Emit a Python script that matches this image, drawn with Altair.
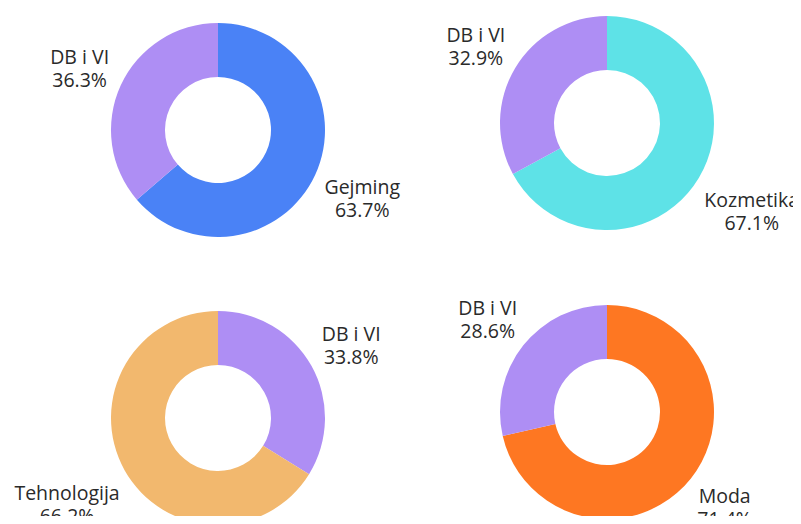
import altair as alt
import pandas as pd

# ---- data ----
panels = ["Gejming", "Kozmetika", "Tehnologija", "Moda"]
panel_of = ["Gejming", "Gejming", "Kozmetika", "Kozmetika",
            "Tehnologija", "Tehnologija", "Moda", "Moda"]
categories = ["Gejming", "DB i VI", "Kozmetika", "DB i VI",
              "DB i VI", "Tehnologija", "Moda", "DB i VI"]
shares = [63.7, 36.3, 67.1, 32.9, 33.8, 66.2, 71.4, 28.6]

color_domain = ["Gejming", "Kozmetika", "Tehnologija", "Moda", "DB i VI"]
color_range = ["#4a82f6", "#5ee2e7", "#f2b86e", "#fe7722", "#ae8ef4"]

df = pd.DataFrame({
    "panel": panel_of,
    "cat": categories,
    "share": shares,
    "idx": list(range(len(shares))),
})

# donut centres inside the view (pixels)
centres = {
    "Gejming": (210, 122),
    "Kozmetika": (599, 115),
    "Tehnologija": (210, 410),
    "Moda": (599, 404),
}
R_OUT, R_IN = 107, 53
FONT = "Open Sans"

color = alt.Color("cat:N", scale=alt.Scale(domain=color_domain, range=color_range), legend=None)
theta_scale = alt.Scale(domain=[0, 100])

# rough text-width estimate (narrow letters, wide 'm', capitals)
width_expr = (
    "11.3 * length(datum.cat)"
    " - 6.3 * (length(datum.cat) - length(replace(datum.cat, regexp('[ijltI ]', 'g'), '')))"
    " + 6.7 * (length(datum.cat) - length(replace(datum.cat, regexp('[mM]', 'g'), '')))"
    " + 2.5 * (length(datum.cat) - length(replace(datum.cat, regexp('[A-HJ-Z]', 'g'), '')))"
)

layers = []
base = alt.Chart(df)
for p in panels:
    cx, cy = centres[p]
    sub = base.transform_filter(alt.datum.panel == p)
    arc = sub.mark_arc(radius=R_OUT, radius2=R_IN, strokeWidth=0).encode(
        theta=alt.Theta("share:Q", stack=True, scale=theta_scale),
        color=color,
        order=alt.Order("idx:Q"),
        x=alt.value(cx), y=alt.value(cy),
    )
    txt = sub.transform_window(
        cum="sum(share)", sort=[alt.SortField("idx")], frame=[None, 0]
    ).transform_calculate(
        midp="datum.cum - datum.share / 2",
        mid="(datum.cum - datum.share / 2) / 100 * 2 * PI",
        wl=width_expr,
    ).transform_calculate(
        w="max(datum.wl, 56)",
    ).transform_calculate(
        lr="116 + abs(sin(datum.mid)) * datum.w / 2 + abs(cos(datum.mid)) * 20",
        label="[datum.cat, format(datum.share, '.1f') + '%']",
    ).mark_text(
        font=FONT, fontSize=19.5, lineHeight=23, color="#2a2a2a",
        align="center", baseline="middle", dy=-8.5,
    ).encode(
        theta=alt.Theta("midp:Q", stack=None, scale=theta_scale),
        radius=alt.Radius("lr:Q", scale=None),
        text="label:N",
        x=alt.value(cx), y=alt.value(cy),
    )
    layers += [arc, txt]

chart = alt.layer(*layers).properties(
    width=785, height=508, padding=0,
    autosize=alt.AutoSizeParams(type="none"),
).configure_view(stroke=None)

chart.save("out.html", embed_options={"renderer": "svg", "actions": False})
